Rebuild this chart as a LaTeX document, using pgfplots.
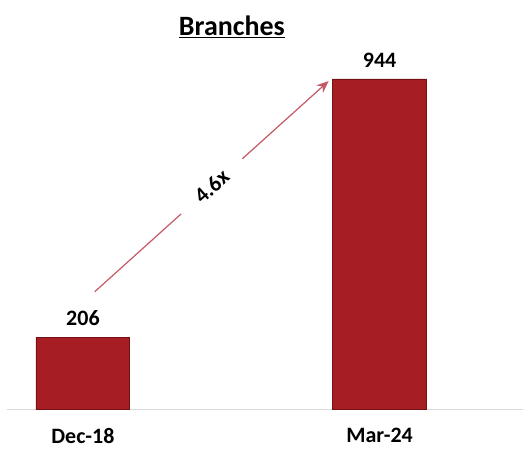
\documentclass[border=0pt]{standalone}
\usepackage{pgfplots}
\pgfplotsset{compat=1.18}
\usetikzlibrary{arrows.meta}
\usepackage{fontspec}
\setmainfont{Carlito}
\definecolor{barred}{RGB}{166,29,36}
\definecolor{baredge}{RGB}{115,18,22}
\definecolor{arrowred}{RGB}{196,88,100}
\definecolor{axisgray}{RGB}{217,217,217}
\begin{document}
\begin{tikzpicture}
\begin{axis}[
  scale only axis, width=516pt, height=360pt,
  xmin=-0.2559, xmax=1.4815, ymin=0, ymax=1027,
  axis x line=bottom, axis y line=none,
  axis line style={-, axisgray, line width=1pt},
  xtick={0,1}, xticklabels={Dec-18,Mar-24},
  ytick=\empty, major tick length=0pt,
  xticklabel style={font=\bfseries\fontsize{22}{22}\selectfont, yshift=-15pt},
  /pgf/number format/assume math mode=true,
  ybar, bar width=94pt,
  nodes near coords,
  every node near coord/.append style={font=\bfseries\fontsize{22}{22}\selectfont, black, yshift=8pt},
  clip=false,
]
\addplot[fill=barred, draw=baredge, line width=0.8pt] coordinates {(0,206) (1,944)};
\draw[arrowred, line width=1.2pt, -{Stealth[length=12pt,width=10pt]}] (axis cs:0.040,336.6) -- node[sloped, fill=white, inner xsep=22pt, inner ysep=2pt, text=black, font=\bfseries\fontsize{22}{22}\selectfont] {4.6x} (axis cs:0.828,938);
\node[font=\bfseries\fontsize{28}{28}\selectfont] at (axis cs:0.502,1092) {\underline{Branches}};
\path (axis cs:-0.2795,-117) rectangle (axis cs:1.4815,1169.5);
\end{axis}
\end{tikzpicture}
\end{document}
